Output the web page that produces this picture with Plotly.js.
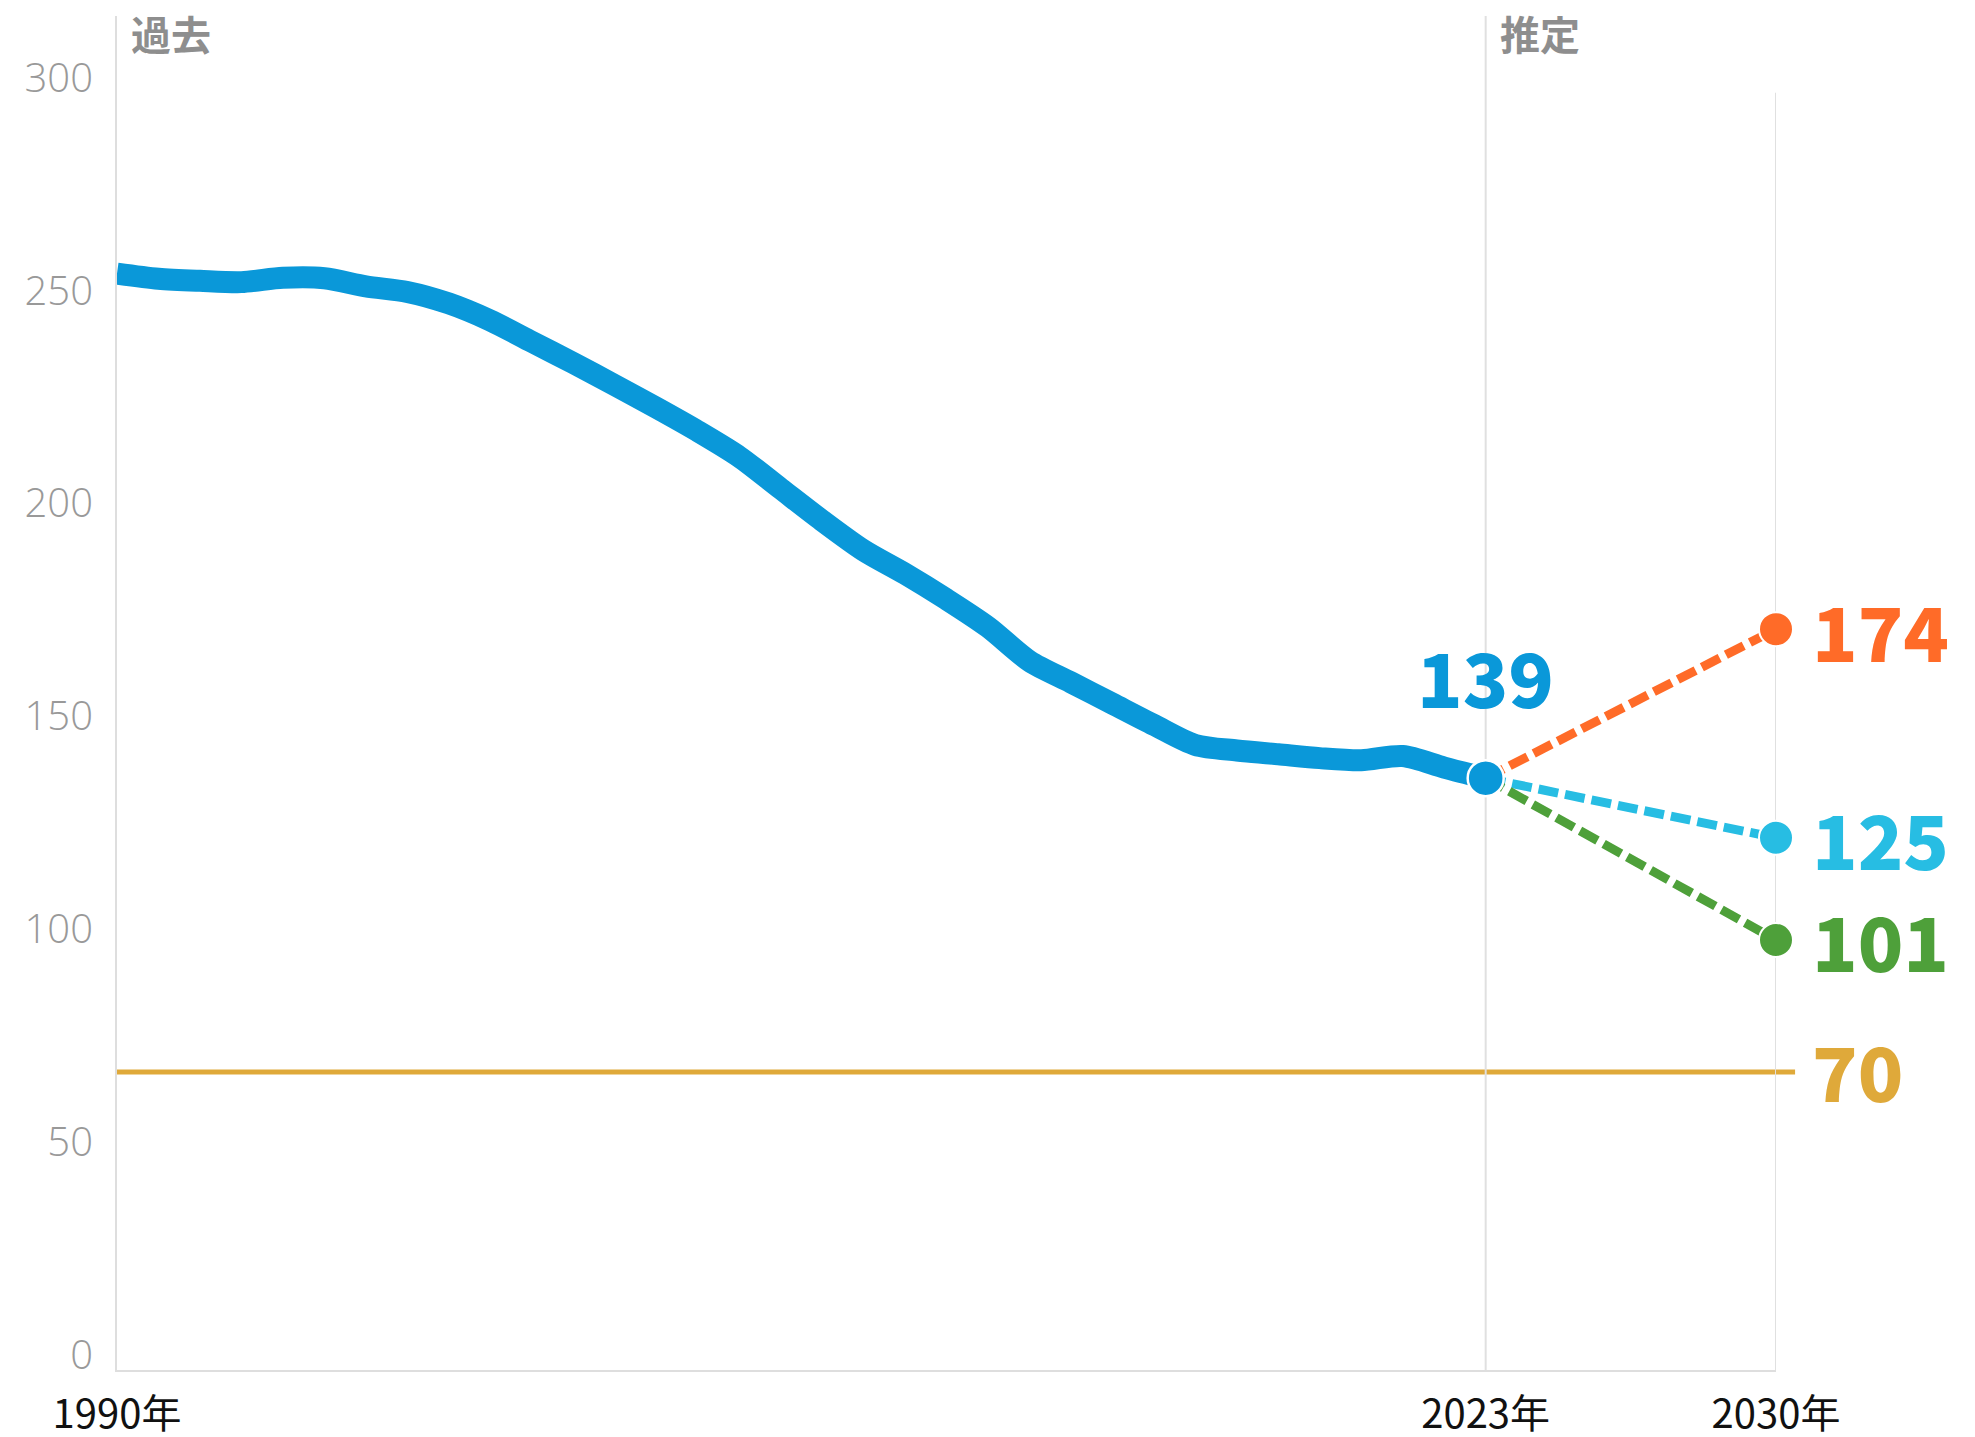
<!DOCTYPE html>
<html><head><meta charset="utf-8">
<script src="https://cdn.plot.ly/plotly-3.0.1.min.js"></script>
<style>html,body{margin:0;padding:0;background:#fff}#chart{width:1975px;height:1437px}</style>
</head><body><div id="chart"></div>
<script>
// ---- data ----
const years = [1990,1991,1992,1993,1994,1995,1996,1997,1998,1999,2000,2001,2002,2003,2004,2005,2006,2007,2008,2009,2010,2011,2012,2013,2014,2015,2016,2017,2018,2019,2020,2021,2022,2023];
const values = [257.5,256.3,255.8,255.5,256.5,256.4,254.5,253.2,250.5,246.5,241.5,236.5,231.3,226,220.5,214.5,207,199.5,192.5,187,181,174.5,166.5,161.5,156.5,151.5,146.8,145.5,144.6,143.7,143.2,144.2,141.5,139];
const projYears = [2023, 2030];
const scenarioValues = [174, 125, 101];
const targetValue = 70;
const yTicks = [0, 50, 100, 150, 200, 250, 300];
const xTicks = [1990, 2023, 2030];
const xTickLabels = ['1990年', '2023年', '2030年'];
const periodLabels = ['過去', '推定'];
const periodStarts = [1990, 2023];

// ---- styles ----
const blue = '#0a98d9';
const scenarioColors = ['#ff6b28', '#27bde3', '#4ea03a'];
const gold = '#dfa93a';
const grey = '#e0e0e0';
const numFont = 'Noto Sans CJK JP';

const lastYear = years[years.length - 1];
const lastVal = values[values.length - 1];

const traces = [];
scenarioValues.forEach((v, i) => {
  traces.push({
    x: projYears, y: [lastVal, v], type: 'scatter', mode: 'lines',
    line: {color: scenarioColors[i], width: 9, dash: '20px,7px'},
    cliponaxis: false, hoverinfo: 'skip'
  });
  traces.push({
    x: [projYears[1]], y: [v], type: 'scatter', mode: 'markers',
    marker: {size: 34, opacity: 1, color: scenarioColors[i], line: {color: '#fff', width: 2}},
    cliponaxis: false, hoverinfo: 'skip'
  });
});
traces.push({
  x: years, y: values, type: 'scatter', mode: 'lines',
  line: {color: blue, width: 22, shape: 'spline', smoothing: 0.8},
  cliponaxis: false, hoverinfo: 'skip'
});
traces.push({
  x: [lastYear], y: [lastVal], type: 'scatter', mode: 'markers',
  marker: {size: 36, opacity: 1, color: blue, line: {color: '#fff', width: 2.5}},
  cliponaxis: false, hoverinfo: 'skip'
});

const shapes = [
  {type: 'line', layer: 'below', xref: 'x', yref: 'y', x0: xTicks[1], x1: xTicks[1], y0: 0, y1: 318, line: {color: grey, width: 2}},
  {type: 'line', layer: 'below', xref: 'x', yref: 'y', x0: xTicks[2], x1: xTicks[2], y0: 0, y1: yTicks[yTicks.length - 1], line: {color: grey, width: 2}},
  {type: 'line', layer: 'below', xref: 'paper', yref: 'y', x0: 0, x1: 1.0115, y0: targetValue, y1: targetValue, line: {color: gold, width: 5}}
];

const annotations = [];
periodLabels.forEach((t, i) => {
  annotations.push({
    x: periodStarts[i], xref: 'x', y: 1, yref: 'paper', text: t, showarrow: false,
    xanchor: 'left', yanchor: 'top', xshift: 12, yshift: 14,
    font: {family: 'Noto Sans CJK JP', size: 40, weight: 'bold', color: '#8e8e8e'}
  });
});
annotations.push({
  x: lastYear, y: lastVal, xref: 'x', yref: 'y', text: String(lastVal), showarrow: false,
  xanchor: 'center', yanchor: 'middle', yshift: 103,
  font: {family: numFont, size: 75, weight: 900, color: blue}
});
scenarioValues.forEach((v, i) => {
  annotations.push({
    x: projYears[1], y: v, xref: 'x', yref: 'y', text: String(v), showarrow: false,
    xanchor: 'left', yanchor: 'middle', xshift: 34,
    font: {family: numFont, size: 75, weight: 900, color: scenarioColors[i]}
  });
});
annotations.push({
  x: projYears[1], y: targetValue, xref: 'x', yref: 'y', text: String(targetValue), showarrow: false,
  xanchor: 'left', yanchor: 'middle', xshift: 34, yshift: 2,
  font: {family: numFont, size: 75, weight: 900, color: gold}
});

const layout = {
  width: 1975, height: 1437,
  margin: {l: 117, r: 199, t: 16, b: 67},
  paper_bgcolor: '#fff', plot_bgcolor: '#fff',
  showlegend: false,
  xaxis: {
    range: [1990, 2030], tickmode: 'array', tickvals: xTicks, ticktext: xTickLabels,
    showgrid: false, zeroline: false, showline: true, linecolor: '#dedede', linewidth: 2,
    ticks: '', ticklabelstandoff: 8,
    tickfont: {family: 'Noto Sans CJK JP', size: 40, color: '#111'}
  },
  yaxis: {
    range: [0, 318], tickmode: 'array', tickvals: yTicks,
    showgrid: false, zeroline: false, showline: true, linecolor: '#dedede', linewidth: 2,
    ticks: '', ticklabelstandoff: 14, ticklabelshift: -15,
    tickfont: {family: 'Open Sans', size: 40, weight: 300, color: '#999999'}
  },
  shapes: shapes,
  annotations: annotations
};

Plotly.newPlot('chart', traces, layout, {displayModeBar: false, staticPlot: true});
</script>
</body></html>
